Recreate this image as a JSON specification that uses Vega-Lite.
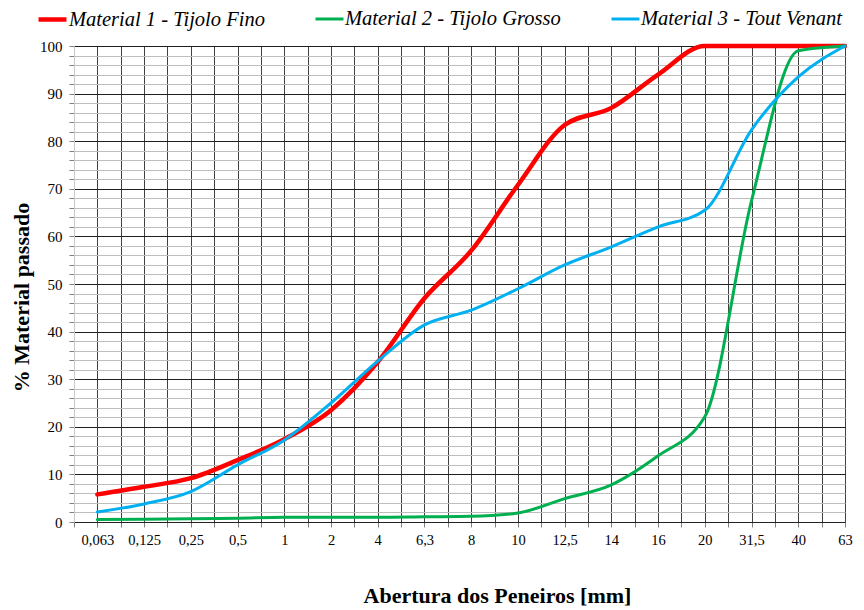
{
  "$schema": "https://vega.github.io/schema/vega-lite/v6.json",
  "width": 771,
  "height": 476,
  "autosize": {"type": "none"},
  "padding": {"left": 74, "top": 46, "right": 19, "bottom": 88},
  "background": "white",
  "config": {"view": {"stroke": null}, "font": "Liberation Serif"},
  "data": {
    "values": [
      {"i": 0, "abertura": "0,063", "material": "Material 1 - Tijolo Fino", "passado": 5.8},
      {"i": 1, "abertura": "0,125", "material": "Material 1 - Tijolo Fino", "passado": 7.4},
      {"i": 2, "abertura": "0,25", "material": "Material 1 - Tijolo Fino", "passado": 9.2},
      {"i": 3, "abertura": "0,5", "material": "Material 1 - Tijolo Fino", "passado": 13.0},
      {"i": 4, "abertura": "1", "material": "Material 1 - Tijolo Fino", "passado": 17.4},
      {"i": 5, "abertura": "2", "material": "Material 1 - Tijolo Fino", "passado": 23.5},
      {"i": 6, "abertura": "4", "material": "Material 1 - Tijolo Fino", "passado": 33.6},
      {"i": 7, "abertura": "6,3", "material": "Material 1 - Tijolo Fino", "passado": 47.0},
      {"i": 8, "abertura": "8", "material": "Material 1 - Tijolo Fino", "passado": 57.0},
      {"i": 9, "abertura": "10", "material": "Material 1 - Tijolo Fino", "passado": 70.8},
      {"i": 10, "abertura": "12,5", "material": "Material 1 - Tijolo Fino", "passado": 83.4},
      {"i": 11, "abertura": "14", "material": "Material 1 - Tijolo Fino", "passado": 87.0},
      {"i": 12, "abertura": "16", "material": "Material 1 - Tijolo Fino", "passado": 94.0},
      {"i": 13, "abertura": "20", "material": "Material 1 - Tijolo Fino", "passado": 100},
      {"i": 14, "abertura": "31,5", "material": "Material 1 - Tijolo Fino", "passado": 100},
      {"i": 15, "abertura": "40", "material": "Material 1 - Tijolo Fino", "passado": 100},
      {"i": 16, "abertura": "63", "material": "Material 1 - Tijolo Fino", "passado": 100},
      {"i": 0, "abertura": "0,063", "material": "Material 2 - Tijolo Grosso", "passado": 0.5},
      {"i": 1, "abertura": "0,125", "material": "Material 2 - Tijolo Grosso", "passado": 0.6},
      {"i": 2, "abertura": "0,25", "material": "Material 2 - Tijolo Grosso", "passado": 0.7},
      {"i": 3, "abertura": "0,5", "material": "Material 2 - Tijolo Grosso", "passado": 0.8},
      {"i": 4, "abertura": "1", "material": "Material 2 - Tijolo Grosso", "passado": 1.0},
      {"i": 5, "abertura": "2", "material": "Material 2 - Tijolo Grosso", "passado": 1.0},
      {"i": 6, "abertura": "4", "material": "Material 2 - Tijolo Grosso", "passado": 1.0},
      {"i": 7, "abertura": "6,3", "material": "Material 2 - Tijolo Grosso", "passado": 1.1},
      {"i": 8, "abertura": "8", "material": "Material 2 - Tijolo Grosso", "passado": 1.2},
      {"i": 9, "abertura": "10", "material": "Material 2 - Tijolo Grosso", "passado": 1.9},
      {"i": 10, "abertura": "12,5", "material": "Material 2 - Tijolo Grosso", "passado": 4.9},
      {"i": 11, "abertura": "14", "material": "Material 2 - Tijolo Grosso", "passado": 7.8},
      {"i": 12, "abertura": "16", "material": "Material 2 - Tijolo Grosso", "passado": 13.9},
      {"i": 13, "abertura": "20", "material": "Material 2 - Tijolo Grosso", "passado": 22.1},
      {"i": 14, "abertura": "31,5", "material": "Material 2 - Tijolo Grosso", "passado": 67.5},
      {"i": 15, "abertura": "40", "material": "Material 2 - Tijolo Grosso", "passado": 99.0},
      {"i": 16, "abertura": "63", "material": "Material 2 - Tijolo Grosso", "passado": 100},
      {"i": 0, "abertura": "0,063", "material": "Material 3 - Tout Venant", "passado": 2.1},
      {"i": 1, "abertura": "0,125", "material": "Material 3 - Tout Venant", "passado": 3.8},
      {"i": 2, "abertura": "0,25", "material": "Material 3 - Tout Venant", "passado": 6.4},
      {"i": 3, "abertura": "0,5", "material": "Material 3 - Tout Venant", "passado": 12.0},
      {"i": 4, "abertura": "1", "material": "Material 3 - Tout Venant", "passado": 17.2},
      {"i": 5, "abertura": "2", "material": "Material 3 - Tout Venant", "passado": 25.0},
      {"i": 6, "abertura": "4", "material": "Material 3 - Tout Venant", "passado": 33.8},
      {"i": 7, "abertura": "6,3", "material": "Material 3 - Tout Venant", "passado": 41.4},
      {"i": 8, "abertura": "8", "material": "Material 3 - Tout Venant", "passado": 44.5},
      {"i": 9, "abertura": "10", "material": "Material 3 - Tout Venant", "passado": 49.0},
      {"i": 10, "abertura": "12,5", "material": "Material 3 - Tout Venant", "passado": 54.0},
      {"i": 11, "abertura": "14", "material": "Material 3 - Tout Venant", "passado": 57.8},
      {"i": 12, "abertura": "16", "material": "Material 3 - Tout Venant", "passado": 62.0},
      {"i": 13, "abertura": "20", "material": "Material 3 - Tout Venant", "passado": 65.5},
      {"i": 14, "abertura": "31,5", "material": "Material 3 - Tout Venant", "passado": 82.4},
      {"i": 15, "abertura": "40", "material": "Material 3 - Tout Venant", "passado": 93.5},
      {"i": 16, "abertura": "63", "material": "Material 3 - Tout Venant", "passado": 100}
    ]
  },
  "mark": {"type": "line", "interpolate": "monotone", "strokeCap": "round"},
  "encoding": {
    "x": {
      "field": "i",
      "type": "quantitative",
      "scale": {"domain": [-0.5, 16], "nice": false, "zero": false},
      "axis": {
        "values": [-0.5, 0, 0.5, 1, 1.5, 2, 2.5, 3, 3.5, 4, 4.5, 5, 5.5, 6, 6.5, 7, 7.5, 8, 8.5, 9, 9.5, 10, 10.5, 11, 11.5, 12, 12.5, 13, 13.5, 14, 14.5, 15, 15.5, 16],
        "labelExpr": "datum.value % 1 === 0 && datum.value >= 0 ? ['0,063','0,125','0,25','0,5','1','2','4','6,3','8','10','12,5','14','16','20','31,5','40','63'][datum.value] : ''",
        "grid": true,
        "gridColor": {"condition": {"test": "datum.value < 0", "value": "#c8c8c8"}, "value": "#404040"},
        "gridWidth": 1,
        "ticks": true,
        "tickColor": "#808080",
        "tickSize": 5,
        "domainColor": "#222222",
        "labelFont": "Liberation Serif",
        "labelFontSize": 14.5,
        "labelColor": "#000000",
        "labelPadding": 6,
        "labelOverlap": false,
        "labelFlush": false,
        "title": "Abertura dos Peneiros [mm]",
        "titleFont": "Liberation Serif",
        "titleFontSize": 22,
        "titleFontWeight": "bold",
        "titleColor": "#000000",
        "titleX": 423,
        "titleY": 80,
        "titleBaseline": "alphabetic",
        "titleAlign": "center"
      }
    },
    "y": {
      "field": "passado",
      "type": "quantitative",
      "scale": {"domain": [0, 100], "nice": false},
      "axis": {
        "values": [0, 2, 4, 6, 8, 10, 12, 14, 16, 18, 20, 22, 24, 26, 28, 30, 32, 34, 36, 38, 40, 42, 44, 46, 48, 50, 52, 54, 56, 58, 60, 62, 64, 66, 68, 70, 72, 74, 76, 78, 80, 82, 84, 86, 88, 90, 92, 94, 96, 98, 100],
        "labelExpr": "datum.value % 10 === 0 ? datum.label : ''",
        "grid": true,
        "gridColor": {"condition": {"test": "datum.value % 10 === 0", "value": "#1e1e1e"}, "value": "#bdbdbd"},
        "gridWidth": 1,
        "tickColor": "#808080",
        "tickSize": 5,
        "domainColor": "#c8c8c8",
        "labelFont": "Liberation Serif",
        "labelFontSize": 15,
        "labelColor": "#000000",
        "labelPadding": 7,
        "labelOverlap": false,
        "title": "% Material passado",
        "titleFont": "Liberation Serif",
        "titleFontSize": 22,
        "titleFontWeight": "bold",
        "titleColor": "#000000",
        "titleAngle": -90,
        "titleX": -53,
        "titleY": 251,
        "titleBaseline": "middle",
        "titleAlign": "center"
      }
    },
    "color": {
      "field": "material",
      "type": "nominal",
      "scale": {
        "domain": ["Material 1 - Tijolo Fino", "Material 2 - Tijolo Grosso", "Material 3 - Tout Venant"],
        "range": ["#FF0000", "#00B050", "#00B0F0"]
      },
      "legend": {
        "orient": "none",
        "legendX": -38,
        "legendY": -43,
        "direction": "horizontal",
        "title": null,
        "symbolType": "stroke",
        "symbolSize": 784,
        "symbolStrokeWidth": 4,
        "labelFont": "Liberation Serif",
        "labelFontStyle": "italic",
        "labelFontSize": 20.5,
        "labelColor": "#000000",
        "labelOffset": 0,
        "labelLimit": 400,
        "columnPadding": 44,
        "padding": 0
      }
    },
    "strokeWidth": {
      "field": "material",
      "type": "nominal",
      "scale": {
        "type": "ordinal",
        "domain": ["Material 1 - Tijolo Fino", "Material 2 - Tijolo Grosso", "Material 3 - Tout Venant"],
        "range": [4.5, 3, 3]
      },
      "legend": null
    }
  }
}
